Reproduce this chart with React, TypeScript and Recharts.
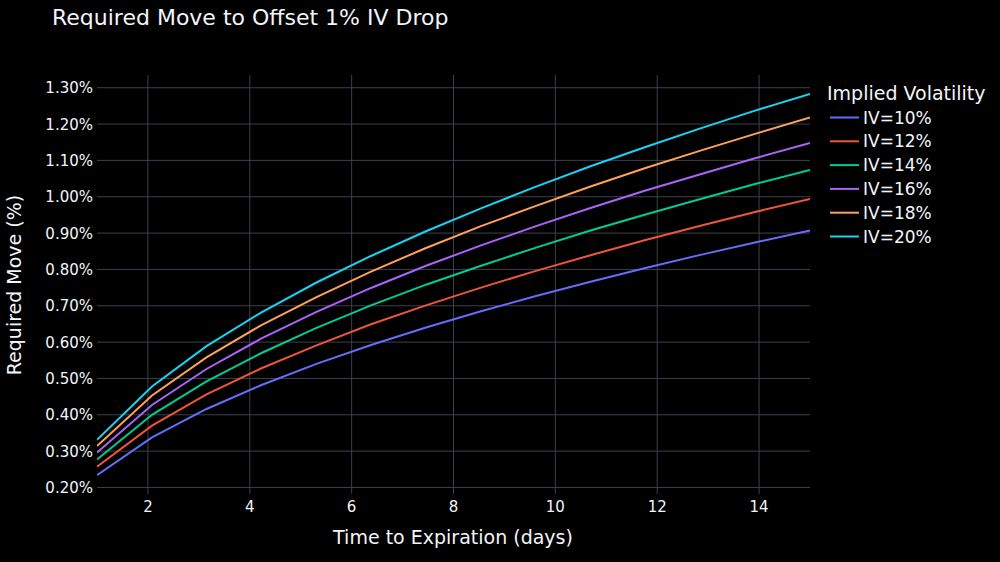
import React from "react";
import { LineChart, Line, XAxis, YAxis, CartesianGrid, Legend } from "recharts";

const days = [1, 2.08, 3.15, 4.23, 5.31, 6.38, 7.46, 8.54, 9.62, 10.69, 11.77, 12.85, 13.92, 15];
const iv10 = [0.234, 0.338, 0.416, 0.482, 0.54, 0.592, 0.64, 0.685, 0.727, 0.766, 0.804, 0.84, 0.874, 0.907];
const iv12 = [0.257, 0.37, 0.456, 0.528, 0.591, 0.649, 0.701, 0.75, 0.796, 0.839, 0.881, 0.92, 0.958, 0.994];
const iv14 = [0.277, 0.4, 0.492, 0.57, 0.639, 0.701, 0.758, 0.81, 0.86, 0.907, 0.951, 0.994, 1.035, 1.074];
const iv16 = [0.296, 0.427, 0.526, 0.61, 0.683, 0.749, 0.81, 0.866, 0.919, 0.969, 1.017, 1.062, 1.106, 1.148];
const iv18 = [0.314, 0.453, 0.558, 0.647, 0.724, 0.794, 0.859, 0.919, 0.975, 1.028, 1.079, 1.127, 1.173, 1.218];
const iv20 = [0.331, 0.478, 0.589, 0.682, 0.764, 0.837, 0.905, 0.968, 1.028, 1.084, 1.137, 1.188, 1.237, 1.283];

const seriesNames = ["IV=10%", "IV=12%", "IV=14%", "IV=16%", "IV=18%", "IV=20%"];
const seriesValues = [iv10, iv12, iv14, iv16, iv18, iv20];
const seriesColors = ["#636efa", "#EF553B", "#00cc96", "#ab63fa", "#FFA15A", "#19d3f3"];
const xTicks = [2, 4, 6, 8, 10, 12, 14];
const yTicks = [0.2, 0.3, 0.4, 0.5, 0.6, 0.7, 0.8, 0.9, 1.0, 1.1, 1.2, 1.3];

const data = days.map((d, i) => {
  const row: Record<string, number> = { day: d };
  seriesNames.forEach((n, k) => {
    row[n] = seriesValues[k][i];
  });
  return row;
});

const FONT = "'DejaVu Sans', Verdana, sans-serif";
const TEXT = "#f2f5fa";
const GRID = "#3d404b";

const LegendContent = () => (
  <svg width={174} height={180} style={{ display: "block", overflow: "visible" }}>
    <text x={1} y={20} fill={TEXT} fontSize={19} fontFamily={FONT}>
      Implied Volatility
    </text>
    {seriesNames.map((n, i) => {
      const cy = 37.5 + 23.8 * i;
      return (
        <g key={n}>
          <line x1={4} y1={cy} x2={33} y2={cy} stroke={seriesColors[i]} strokeWidth={2} />
          <text x={37} y={cy + 6} fill={TEXT} fontSize={17} fontFamily={FONT}>
            {n}
          </text>
        </g>
      );
    })}
  </svg>
);

const YTick = (props: any) => {
  const { x, y, payload } = props;
  return (
    <text x={x} y={y} dy={5.5} textAnchor="end" fill={TEXT} fontSize={15} fontFamily={FONT}>
      {Number(payload.value).toFixed(2) + "%"}
    </text>
  );
};

const XTick = (props: any) => {
  const { x, y, payload } = props;
  return (
    <text x={x} y={y} dy={18} textAnchor="middle" fill={TEXT} fontSize={15} fontFamily={FONT}>
      {payload.value}
    </text>
  );
};

export default function App() {
  return (
    <div
      style={{
        position: "absolute",
        left: 0,
        top: 0,
        width: 1000,
        height: 562,
        background: "#000000",
        overflow: "hidden",
        fontFamily: FONT,
      }}
    >
      <div
        style={{
          position: "absolute",
          left: 52,
          top: 6,
          fontSize: 22,
          lineHeight: "24px",
          color: TEXT,
          whiteSpace: "nowrap",
        }}
      >
        Required Move to Offset 1% IV Drop
      </div>
      <div
        style={{
          position: "absolute",
          left: 14 - 150,
          top: 285 - 12,
          width: 300,
          height: 24,
          lineHeight: "24px",
          textAlign: "center",
          fontSize: 19,
          color: TEXT,
          transform: "rotate(-90deg)",
          whiteSpace: "nowrap",
        }}
      >
        Required Move (%)
      </div>
      <div
        style={{
          position: "absolute",
          left: 453 - 200,
          top: 537 - 12,
          width: 400,
          height: 24,
          lineHeight: "24px",
          textAlign: "center",
          fontSize: 19,
          color: TEXT,
          whiteSpace: "nowrap",
        }}
      >
        Time to Expiration (days)
      </div>
      <LineChart
        width={1000}
        height={562}
        data={data}
        margin={{ top: 75, right: 16, bottom: 40, left: 0 }}
      >
        <CartesianGrid stroke={GRID} strokeWidth={1} horizontalValues={yTicks} verticalValues={xTicks} />
        <XAxis
          dataKey="day"
          type="number"
          domain={[1, 15]}
          ticks={xTicks}
          height={28}
          axisLine={false}
          tickLine={false}
          tickSize={0}
          tickMargin={0}
          tick={<XTick />}
          allowDataOverflow
        />
        <YAxis
          type="number"
          domain={[0.182, 1.335]}
          ticks={yTicks}
          width={97}
          axisLine={false}
          tickLine={false}
          tickSize={0}
          tickMargin={4}
          tick={<YTick />}
          allowDataOverflow
        />
        <Legend
          layout="vertical"
          verticalAlign="top"
          align="right"
          content={() => <LegendContent />}
          wrapperStyle={{ position: "absolute", left: 826, top: 80, width: 174, height: 180 }}
        />
        {seriesNames.map((n, i) => (
          <Line
            key={n}
            type="linear"
            dataKey={n}
            stroke={seriesColors[i]}
            strokeWidth={2}
            dot={false}
            isAnimationActive={false}
          />
        ))}
      </LineChart>
    </div>
  );
}
